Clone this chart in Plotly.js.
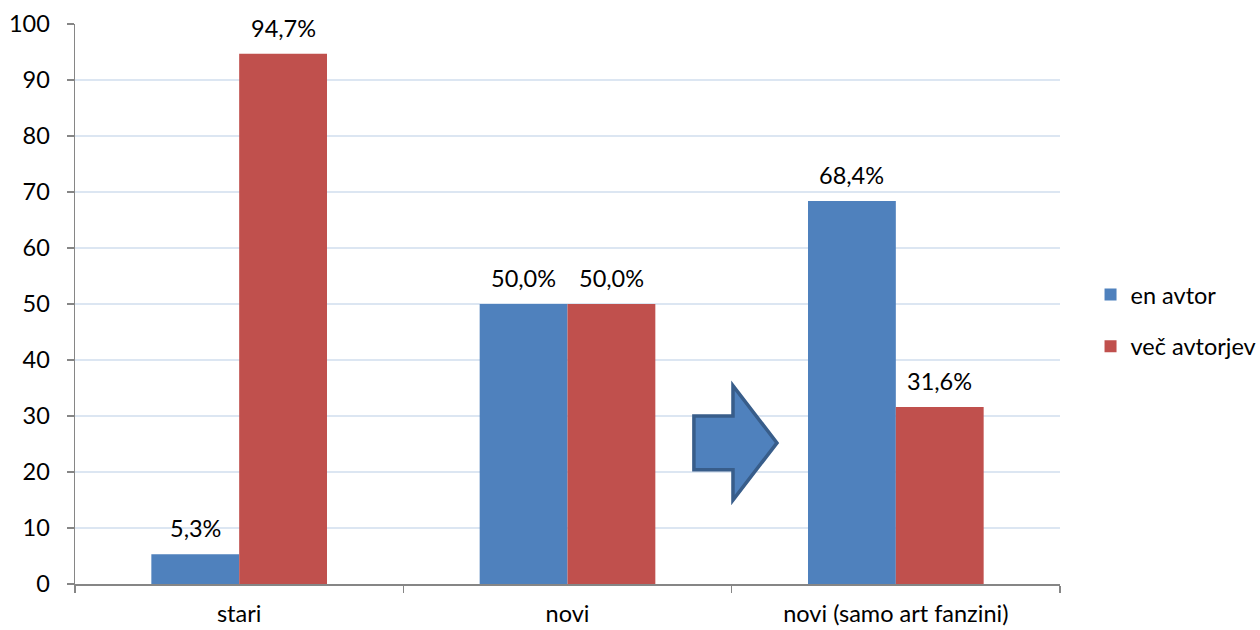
<!DOCTYPE html>
<html><head><meta charset="utf-8">
<script src="https://cdn.plot.ly/plotly-3.0.1.min.js"></script>
<style>html,body{margin:0;padding:0;background:#fff}#c{width:1260px;height:630px}</style>
</head><body><div id="c"></div>
<script>
const categories = ["stari", "novi", "novi (samo art fanzini)"];
const seriesNames = ["en avtor", "več avtorjev"];
const enAvtor = [5.3, 50.0, 68.4];
const vecAvtorjev = [94.7, 50.0, 31.6];
const yTicks = [0,10,20,30,40,50,60,70,80,90,100];

const FONT = "Lato, 'Open Sans', sans-serif";
const FS = 23.5;
const colors = ["#4F81BD", "#C0504D"];
const fmt = v => v.toFixed(1).replace(".", ",") + "%";

const traces = [enAvtor, vecAvtorjev].map((vals, i) => ({
  type: "bar", x: categories, y: vals, name: seriesNames[i],
  marker: {color: colors[i]}, legendgroup: "g" + i, hoverinfo: "none"
}));

const annotations = [];
[enAvtor, vecAvtorjev].forEach((vals, i) => {
  vals.forEach((v, j) => {
    annotations.push({
      x: j, y: v, xref: "x", yref: "y", text: fmt(v), showarrow: false,
      xshift: (i === 0 ? -44 : 44), yanchor: "bottom", yshift: 10,
      font: {family: FONT, size: FS, color: "#000"}
    });
  });
});

const arrow = {
  type: "path", xref: "x", yref: "y",
  path: "M1.385,30.0 L1.504,30.0 L1.504,35.4 L1.638,25.2 L1.504,15.0 L1.504,20.4 L1.385,20.4 Z",
  fillcolor: "#4F81BD", line: {color: "#385D8A", width: 3.5}
};

const layout = {
  width: 1260, height: 630,
  margin: {l: 75, r: 200, t: 24, b: 46, autoexpand: false},
  paper_bgcolor: "#fff", plot_bgcolor: "#fff",
  font: {family: FONT, size: FS, color: "#000"},
  barmode: "group", bargap: 0.465, bargroupgap: 0,
  xaxis: {
    type: "category", showline: true, linecolor: "#868686", linewidth: 1.5,
    ticks: "outside", tickson: "boundaries", ticklen: 7, tickcolor: "#868686", tickwidth: 1.5,
    showgrid: false, tickfont: {family: FONT, size: FS, color: "#000"}, ticklabelstandoff: 8,
    range: [-0.5, 2.5], fixedrange: true, automargin: false
  },
  yaxis: {
    range: [0, 100], tickvals: yTicks, showline: true, linecolor: "#868686", linewidth: 1.5,
    ticks: "outside", ticklen: 7, tickcolor: "#868686", tickwidth: 1.5,
    showgrid: true, gridcolor: "#DCE6F2", gridwidth: 1.5, zeroline: false,
    tickfont: {family: FONT, size: FS, color: "#000"}, ticklabelstandoff: 12, fixedrange: true,
    automargin: false
  },
  legend: {
    x: 1.031, xanchor: "left", y: 0.47, yanchor: "middle",
    font: {family: FONT, size: FS, color: "#000"},
    itemwidth: 30, tracegroupgap: 18, bgcolor: "rgba(0,0,0,0)"
  },
  annotations: annotations,
  shapes: [arrow],
  showlegend: true
};

Plotly.newPlot("c", traces, layout, {displayModeBar: false, staticPlot: true});
</script></body></html>
